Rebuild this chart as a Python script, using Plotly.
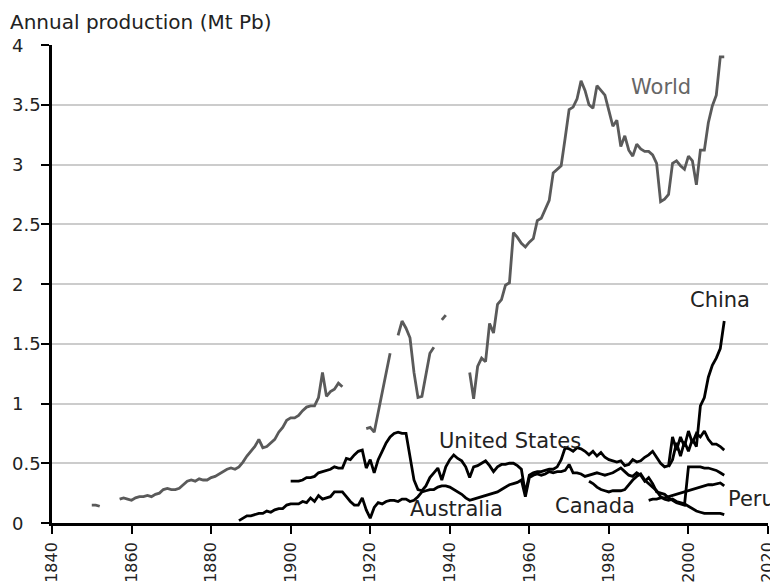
import plotly.graph_objects as go

# ---------------- data (Mt Pb) ----------------
world_years = list(range(1850, 2010))
world_vals = [
    0.15, 0.15, 0.14, None, None, None, None,            # 1850-1856
    0.20, 0.21, 0.20,                                      # 1857-1859
    0.19, 0.21, 0.22, 0.22, 0.23, 0.22, 0.24, 0.25, 0.28, 0.29,   # 1860s
    0.28, 0.28, 0.29, 0.32, 0.35, 0.36, 0.35, 0.37, 0.36, 0.36,   # 1870s
    0.38, 0.39, 0.41, 0.43, 0.45, 0.46, 0.45, 0.47, 0.51, 0.56,   # 1880s
    0.60, 0.64, 0.70, 0.63, 0.64, 0.67, 0.70, 0.76, 0.80, 0.86,   # 1890s
    0.88, 0.88, 0.90, 0.94, 0.97, 0.98, 0.98, 1.05, 1.26, 1.06,   # 1900s
    1.10, 1.12, 1.17, 1.14, None, None, None, None, None, 0.79,   # 1910s
    0.80, 0.76, 0.92, 1.10, 1.25, 1.42, None, 1.57, 1.69, 1.63,   # 1920s
    1.55, 1.26, 1.05, 1.06, 1.25, 1.42, 1.47, None, 1.70, 1.74,   # 1930s
    None, None, None, None, None, 1.26, 1.04, 1.31, 1.38, 1.35,   # 1940s
    1.67, 1.59, 1.83, 1.87, 1.99, 2.01, 2.43, 2.39, 2.34, 2.31,   # 1950s
    2.35, 2.38, 2.53, 2.55, 2.62, 2.70, 2.93, 2.96, 2.99, 3.22,   # 1960s
    3.46, 3.48, 3.55, 3.70, 3.62, 3.50, 3.47, 3.66, 3.62, 3.58,   # 1970s
    3.45, 3.32, 3.37, 3.15, 3.24, 3.12, 3.07, 3.17, 3.13, 3.11,   # 1980s
    3.11, 3.08, 3.01, 2.69, 2.71, 2.75, 3.01, 3.03, 2.99, 2.96,   # 1990s
    3.07, 3.03, 2.83, 3.12, 3.12, 3.35, 3.49, 3.58, 3.90, 3.90,   # 2000s
]

us_years = list(range(1900, 2010))
us_vals = [
    0.35, 0.35, 0.35, 0.36, 0.38, 0.38, 0.39, 0.42, 0.43, 0.44,   # 1900s
    0.45, 0.47, 0.46, 0.46, 0.54, 0.53, 0.57, 0.60, 0.61, 0.46,   # 1910s
    0.53, 0.42, 0.53, 0.60, 0.67, 0.72, 0.75, 0.76, 0.75, 0.75,   # 1920s
    0.55, 0.36, 0.28, 0.27, 0.31, 0.38, 0.42, 0.46, 0.36, 0.47,   # 1930s
    0.53, 0.57, 0.54, 0.52, 0.47, 0.38, 0.47, 0.48, 0.50, 0.52,   # 1940s
    0.48, 0.43, 0.47, 0.49, 0.49, 0.50, 0.50, 0.48, 0.45, 0.25,   # 1950s
    0.40, 0.42, 0.43, 0.43, 0.44, 0.45, 0.45, 0.47, 0.53, 0.63,   # 1960s
    0.62, 0.60, 0.63, 0.62, 0.60, 0.57, 0.60, 0.56, 0.59, 0.55,   # 1970s
    0.53, 0.52, 0.51, 0.52, 0.48, 0.49, 0.53, 0.51, 0.52, 0.55,   # 1980s
    0.57, 0.60, 0.55, 0.50, 0.47, 0.48, 0.72, 0.61, 0.72, 0.64,   # 1990s
    0.77, 0.67, 0.75, 0.72, 0.77, 0.70, 0.66, 0.66, 0.64, 0.61,   # 2000s
]

australia_years = list(range(1887, 2010))
australia_vals = [
    0.02, 0.04, 0.06,                                             # 1887-1889
    0.06, 0.07, 0.08, 0.08, 0.10, 0.09, 0.11, 0.12, 0.12, 0.15,   # 1890s
    0.16, 0.16, 0.16, 0.18, 0.17, 0.21, 0.18, 0.23, 0.20, 0.21,   # 1900s
    0.22, 0.26, 0.26, 0.26, 0.22, 0.18, 0.15, 0.15, 0.21, 0.11,   # 1910s
    0.04, 0.13, 0.17, 0.16, 0.18, 0.19, 0.19, 0.18, 0.20, 0.20,   # 1920s
    0.18, 0.19, 0.22, 0.26, 0.27, 0.28, 0.28, 0.30, 0.31, 0.31,   # 1930s
    0.30, 0.28, 0.26, 0.24, 0.21, 0.19, 0.20, 0.21, 0.22, 0.23,   # 1940s
    0.24, 0.25, 0.26, 0.28, 0.30, 0.32, 0.33, 0.34, 0.36, 0.22,   # 1950s
    0.38, 0.40, 0.41, 0.40, 0.41, 0.43, 0.42, 0.43, 0.43, 0.44,   # 1960s
    0.49, 0.42, 0.42, 0.41, 0.39, 0.40, 0.41, 0.42, 0.41, 0.40,   # 1970s
    0.41, 0.42, 0.44, 0.46, 0.43, 0.40, 0.39, 0.42, 0.40, 0.35,   # 1980s
    0.38, 0.33, 0.26, 0.25, 0.24, 0.21, 0.19, 0.17, 0.16, 0.15,   # 1990s
    0.47, 0.47, 0.47, 0.47, 0.46, 0.46, 0.45, 0.44, 0.42, 0.40,   # 2000s
]

canada_years = list(range(1975, 2010))
canada_vals = [
    0.35, 0.33, 0.30, 0.28, 0.27,                                 # 1975-1979
    0.26, 0.27, 0.27, 0.27, 0.28, 0.32, 0.36, 0.39, 0.41, 0.36,   # 1980s
    0.33, 0.30, 0.27, 0.22, 0.20, 0.19, 0.20, 0.18, 0.17, 0.16,   # 1990s
    0.14, 0.12, 0.10, 0.09, 0.08, 0.08, 0.08, 0.08, 0.08, 0.07,   # 2000s
]

peru_years = list(range(1990, 2010))
peru_vals = [
    0.19, 0.20, 0.20, 0.21, 0.21, 0.22, 0.23, 0.24, 0.25, 0.26,
    0.27, 0.28, 0.29, 0.30, 0.31, 0.32, 0.32, 0.33, 0.335, 0.31,
]

china_years = list(range(1995, 2010))
china_vals = [
    0.47, 0.53, 0.67, 0.56, 0.68,
    0.60, 0.70, 0.64, 0.98, 1.05, 1.22, 1.32, 1.38, 1.46, 1.69,
]

x_ticks = list(range(1840, 2021, 20))
y_ticks = [0, 0.5, 1, 1.5, 2, 2.5, 3, 3.5, 4]
y_tick_labels = ["0", "0.5", "1", "1.5", "2", "2.5", "3", "3.5", "4"]

# label name, x (year), y (Mt), colour
series_labels = [
    ("World", 1993, 3.65, "#666666"),
    ("China", 2008, 1.87, "#222222"),
    ("United States", 1955.2, 0.69, "#222222"),
    ("Australia", 1941.8, 0.12, "#222222"),
    ("Canada", 1976.6, 0.14, "#222222"),
    ("Peru", 2015.8, 0.20, "#222222"),
]

FONT = "DejaVu Sans"

fig = go.Figure()

def add_line(xs, ys, color):
    fig.add_trace(go.Scatter(
        x=xs, y=ys, mode="lines", connectgaps=False,
        line=dict(color=color, width=2.8), hoverinfo="skip", showlegend=False,
        cliponaxis=False,
    ))

add_line(australia_years, australia_vals, "#000000")
add_line(canada_years, canada_vals, "#000000")
add_line(peru_years, peru_vals, "#000000")
add_line(us_years, us_vals, "#000000")
add_line(china_years, china_vals, "#000000")
add_line(world_years, world_vals, "#5a5a5a")

annotations = []
for name, xv, yv, col in series_labels:
    annotations.append(dict(
        x=xv, y=yv, xref="x", yref="y", text=name, showarrow=False,
        font=dict(family=FONT, size=21, color=col),
        xanchor="center", yanchor="middle",
    ))

# the page body adds an 8 px offset, so the figure is a little smaller
W, H = 770, 577
ML, MR, MT, MB = 44, 10, 37, 62
plot_w = W - ML - MR
for val, lab in zip(y_ticks, y_tick_labels):
    annotations.append(dict(
        x=(2 - ML) / plot_w, y=val, xref="paper", yref="y", text=lab,
        showarrow=False, xanchor="left", yanchor="middle",
        font=dict(family=FONT, size=18, color="#222222"),
    ))

fig.update_layout(
    width=W, height=H,
    margin=dict(l=ML, r=MR, t=MT, b=MB, autoexpand=False),
    paper_bgcolor="white", plot_bgcolor="white",
    title=dict(
        text="Annual production (Mt Pb)",
        x=2 / W, xanchor="left", xref="container",
        y=1 - 14 / H, yanchor="middle",
        font=dict(family=FONT, size=20, color="#222222"),
    ),
    annotations=annotations,
    xaxis=dict(
        range=[1840, 2020], tickvals=x_ticks, ticktext=[str(v) for v in x_ticks],
        tickangle=-90, ticks="outside", ticklen=8, tickwidth=2, tickcolor="black",
        showline=True, linecolor="black", linewidth=2.5,
        showgrid=False, zeroline=False, automargin=False,
        tickfont=dict(family=FONT, size=16, color="#222222"),
        ticklabelstandoff=2,
    ),
    yaxis=dict(
        range=[0, 4], tickvals=y_ticks, showticklabels=False,
        ticks="outside", ticklen=8, tickwidth=2, tickcolor="black",
        showline=True, linecolor="black", linewidth=2.5, automargin=False,
        showgrid=True, gridcolor="#cccccc", gridwidth=2, zeroline=False,
    ),
)

fig.write_html("out.html")
